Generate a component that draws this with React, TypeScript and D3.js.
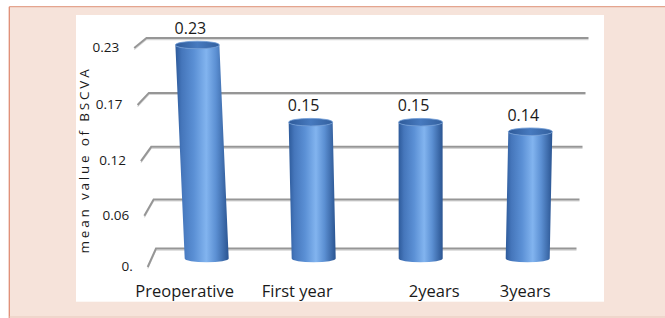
import React from "react";
import * as d3 from "d3";

const categories = ["Preoperative", "First year", "2years", "3years"];
const values = [0.23, 0.15, 0.15, 0.14];
const valueLabels = ["0.23", "0.15", "0.15", "0.14"];
const tickValues = [0, 0.0575, 0.115, 0.1725, 0.23];
const tickLabels = ["0.", "0.06", "0.12", "0.17", "0.23"];
const yTitle = "mean value of BSCVA";

// layout-only nudges for category labels (px)
const labelNudge = [-22, -16.5, 13.5, -2.5];

const W = 665;
const H = 318;
const FONT = "'Open Sans', 'DejaVu Sans', sans-serif";

export default function App() {
  const x = d3.scalePoint<string>().domain(categories).range([153.2, 581.2]).padding(0.5);
  const yBar = d3.scalePow().exponent(1.05).domain([0, 0.23]).range([258.5, 45]);
  const yGrid = d3.scalePow().exponent(1.05).domain([0, 0.23]).range([248.5, 38]);

  const rx = 22;
  const ry = 3.8;
  const vanishX = 425;

  const bars = categories.map((c, i) => {
    const bx = x(c) as number;
    const by = yBar(0);
    const ty = yBar(values[i]);
    const h = by - ty;
    const tx = bx + (bx - vanishX) * 2e-4 * h;
    return { c, i, bx, by, tx, ty };
  });

  const cylPath = (b: any) =>
    `M${b.tx - rx},${b.ty} L${b.bx - rx},${b.by} ` +
    `A${rx},${ry} 0 0 0 ${b.bx + rx},${b.by} ` +
    `L${b.tx + rx},${b.ty} ` +
    `A${rx},${ry} 0 0 1 ${b.tx - rx},${b.ty} Z`;

  const n = tickValues.length - 1;

  return (
    <svg
      width={W}
      height={H}
      style={{ position: "absolute", left: 0, top: 0, display: "block" }}
      fontFamily={FONT}
    >
      <defs>
        <linearGradient id="body" x1="0" x2="1" y1="0" y2="0">
          <stop offset="0" stopColor="#2d5a9a" />
          <stop offset="0.12" stopColor="#4576bb" />
          <stop offset="0.35" stopColor="#5b90d5" />
          <stop offset="0.58" stopColor="#82b4ef" />
          <stop offset="0.76" stopColor="#5c90d3" />
          <stop offset="1" stopColor="#2a5491" />
        </linearGradient>
        <linearGradient id="cap" x1="0" x2="1" y1="0" y2="0">
          <stop offset="0" stopColor="#2e5a99" />
          <stop offset="0.5" stopColor="#477abf" />
          <stop offset="1" stopColor="#33609e" />
        </linearGradient>
      </defs>

      <rect x={0} y={0} width={W} height={H} fill="#ffffff" />
      <rect x={9.3} y={6.7} width={W - 9.3} height={H - 6.7} fill="#f6e3da" />
      <line x1={9.3} x2={W} y1={6.7} y2={6.7} stroke="#e4a58f" strokeWidth={1.3} />
      <line x1={9.3} x2={9.3} y1={6.7} y2={H} stroke="#df8d74" strokeWidth={1.3} />
      <line x1={9.3} x2={W} y1={317} y2={317} stroke="#e9c9bd" strokeWidth={1} />

      <rect x={76} y={15} width={528} height={286.7} fill="#ffffff" />

      {tickValues.map((v, i) => {
        const t = i / n;
        const gy = yGrid(v);
        const left = 156 - t * 9.5;
        const right = 576.5 + t * 12;
        const dx = 8.3 + 4 * t;
        const dy = 18.5 - 8.5 * t;
        const lx = left - dx;
        const ly = gy + dy;
        return (
          <g key={i}>
            <polyline
              points={`${lx},${ly} ${left},${gy} ${right},${gy}`}
              fill="none"
              stroke="#d6d6d6"
              strokeWidth={1.2}
              transform="translate(0,1.6)"
            />
            <polyline
              points={`${lx},${ly} ${left},${gy} ${right},${gy}`}
              fill="none"
              stroke="#969696"
              strokeWidth={2}
            />
            <text x={lx - 15} y={ly + 4} textAnchor="end" fontSize={13.5} fill="#1a1a1a">
              {tickLabels[i]}
            </text>
          </g>
        );
      })}

      <text
        transform="translate(89,160) rotate(-90)"
        textAnchor="middle"
        fontSize={13.5}
        letterSpacing={2.8}
        fill="#1a1a1a"
      >
        {yTitle}
      </text>

      {bars.map((b) => (
        <g key={b.c}>
          <path d={cylPath(b)} fill="url(#body)" />
          <ellipse cx={b.tx} cy={b.ty} rx={rx} ry={ry} fill="url(#cap)" stroke="#6d9bd6" strokeWidth={0.8} />
          <text x={b.tx - 7} y={b.ty - 11} textAnchor="middle" fontSize={16} fill="#1a1a1a">
            {valueLabels[b.i]}
          </text>
          <text x={b.bx + labelNudge[b.i]} y={296.7} textAnchor="middle" fontSize={16.5} fill="#1a1a1a">
            {b.c}
          </text>
        </g>
      ))}
    </svg>
  );
}
